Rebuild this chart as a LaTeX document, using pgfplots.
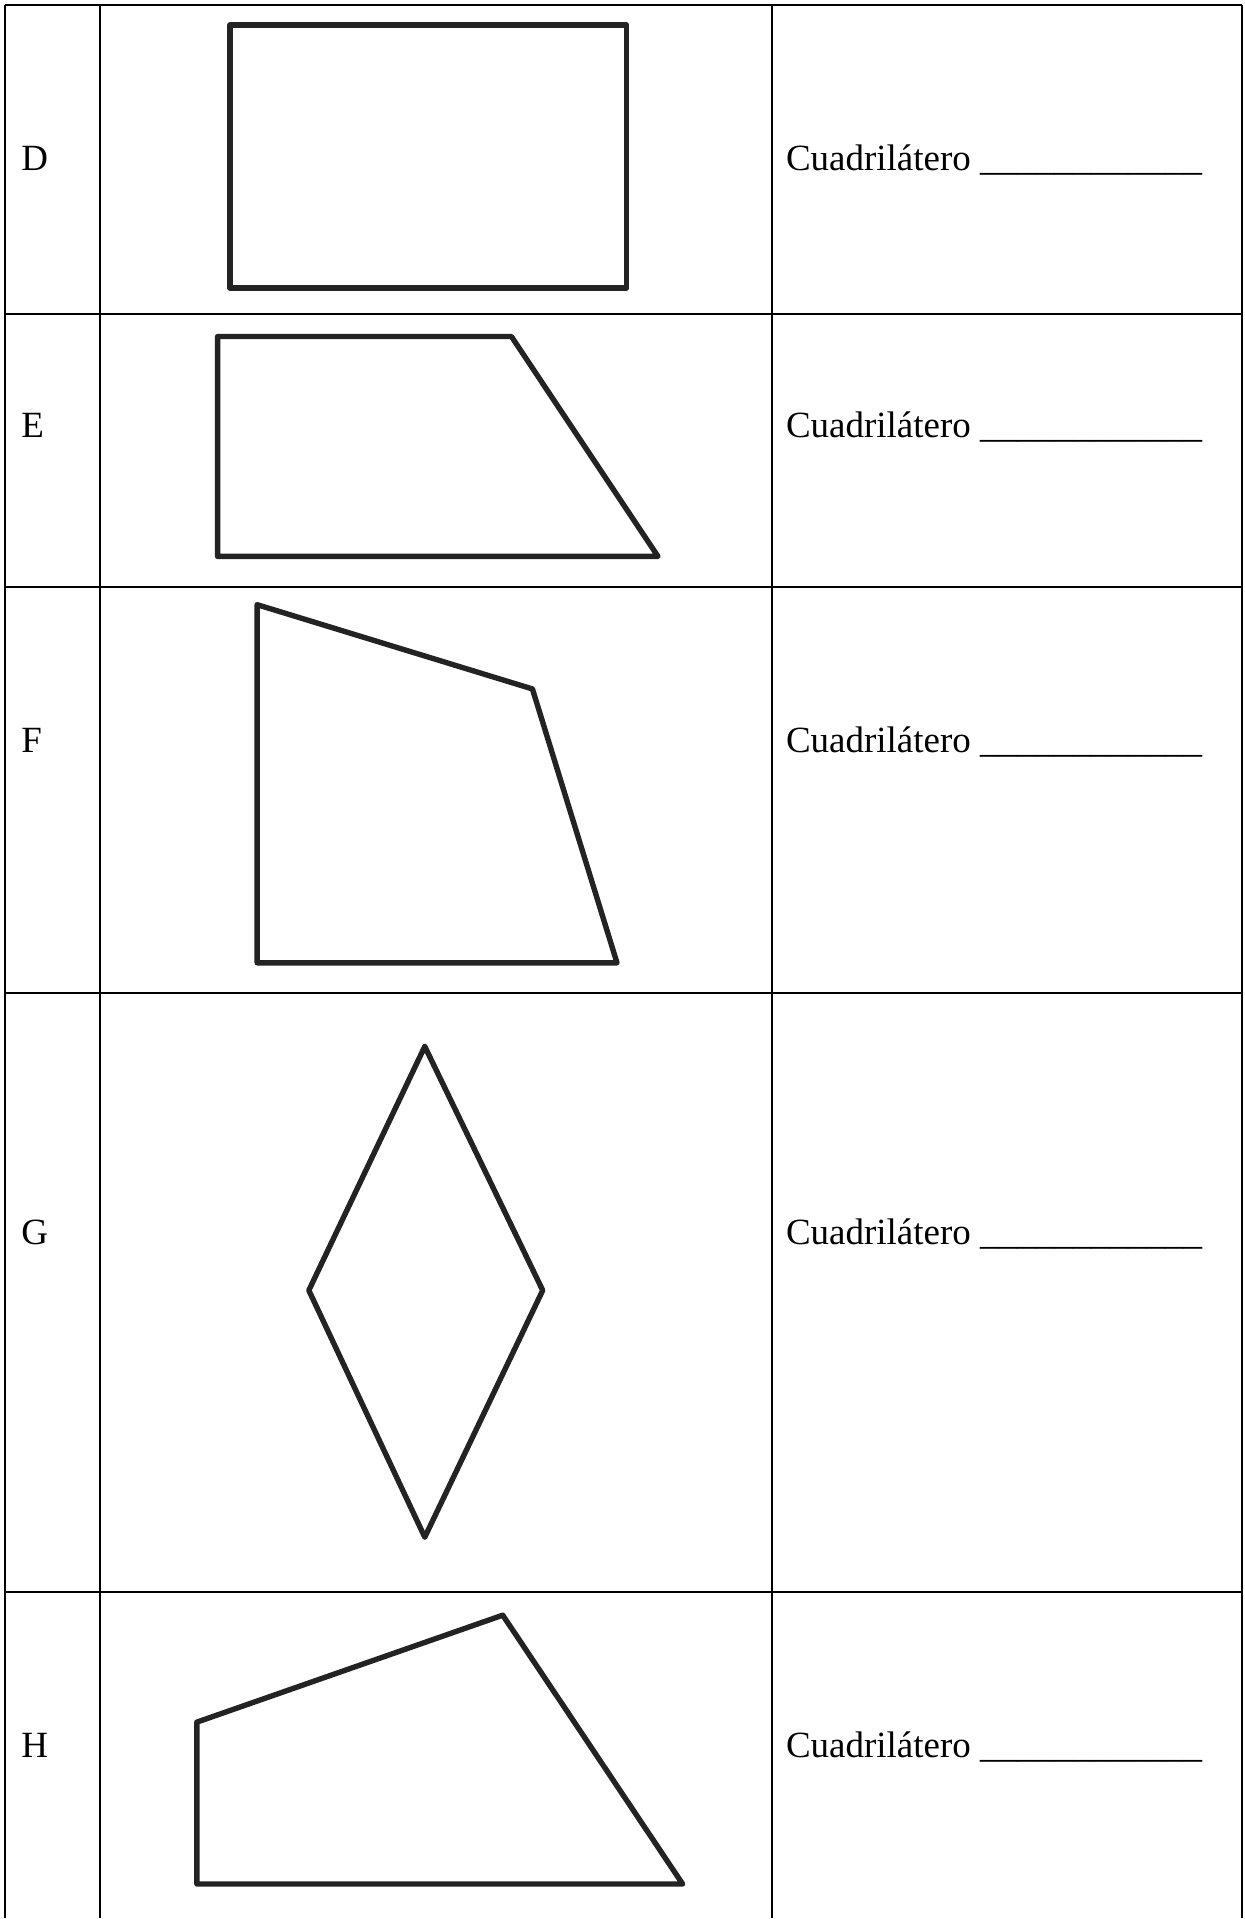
\documentclass[border=0pt]{standalone}
\usepackage{fontspec}
\setmainfont{Liberation Serif}
\usepackage{pgfplots}
\pgfplotsset{compat=1.18}
\definecolor{grid}{RGB}{128,128,128}
\definecolor{ink}{RGB}{35,35,35}
\tikzset{lbl/.style={anchor=base west, inner sep=0pt, font=\fontsize{18.5}{22}\selectfont}}
\begin{document}
\begin{tikzpicture}
\begin{axis}[width=622.5pt, height=959.5pt, scale only axis, hide axis, clip=false,
  xmin=0, xmax=1245, ymin=0, ymax=1919, y dir=reverse,
  every axis plot/.append style={mark=none}]
% page frame (keeps the full picture size)
\addplot[draw=none] coordinates {(0,0) (1245,1919)};
% table rules
\addplot[grid, line width=1pt] coordinates {(5,4.7) (5,1919)};
\addplot[grid, line width=1pt] coordinates {(100,4.7) (100,1919)};
\addplot[grid, line width=1pt] coordinates {(772,4.7) (772,1919)};
\addplot[grid, line width=1pt] coordinates {(1243,4.7) (1243,1919)};
\addplot[grid, line width=1pt] coordinates {(5,4.7) (1243,4.7)};
\addplot[grid, line width=1pt] coordinates {(5,314) (1243,314)};
\addplot[grid, line width=1pt] coordinates {(5,587.7) (1243,587.7)};
\addplot[grid, line width=1pt] coordinates {(5,994) (1243,994)};
\addplot[grid, line width=1pt] coordinates {(5,1592.5) (1243,1592.5)};
% shapes
\addplot[ink, line width=2.7pt, line join=round, line cap=round] coordinates {
  (230,25) (627,25) (627,288) (230,288) (230,25)};
\addplot[ink, line width=2.7pt, line join=round, line cap=round] coordinates {
  (217.7,336.7) (511.7,336.7) (658.3,556.7) (217.7,556.7) (217.7,336.7)};
\addplot[ink, line width=2.7pt, line join=round, line cap=round] coordinates {
  (257.3,605) (532.7,689.3) (617.3,963.3) (257.3,963.3) (257.3,605)};
\addplot[ink, line width=2.7pt, line join=round, line cap=round] coordinates {
  (425,1047) (543,1291) (425,1538) (309,1291) (425,1047)};
\addplot[ink, line width=2.7pt, line join=round, line cap=round] coordinates {
  (197,1723) (503,1616) (683,1885) (197,1885) (197,1723)};
% labels
\node[lbl] at (axis cs:21,170.4) {D};
\node[lbl] at (axis cs:21,437.3) {E};
\node[lbl] at (axis cs:21,753.1) {F};
\node[lbl] at (axis cs:21,1245.3) {G};
\node[lbl] at (axis cs:21,1758.2) {H};
\node[lbl] at (axis cs:786,170.4) {Cuadrilátero \_\_\_\_\_\_\_\_\_\_\_\_};
\node[lbl] at (axis cs:786,437.3) {Cuadrilátero \_\_\_\_\_\_\_\_\_\_\_\_};
\node[lbl] at (axis cs:786,753.1) {Cuadrilátero \_\_\_\_\_\_\_\_\_\_\_\_};
\node[lbl] at (axis cs:786,1245.3) {Cuadrilátero \_\_\_\_\_\_\_\_\_\_\_\_};
\node[lbl] at (axis cs:786,1758.2) {Cuadrilátero \_\_\_\_\_\_\_\_\_\_\_\_};
\end{axis}
\end{tikzpicture}
\end{document}
